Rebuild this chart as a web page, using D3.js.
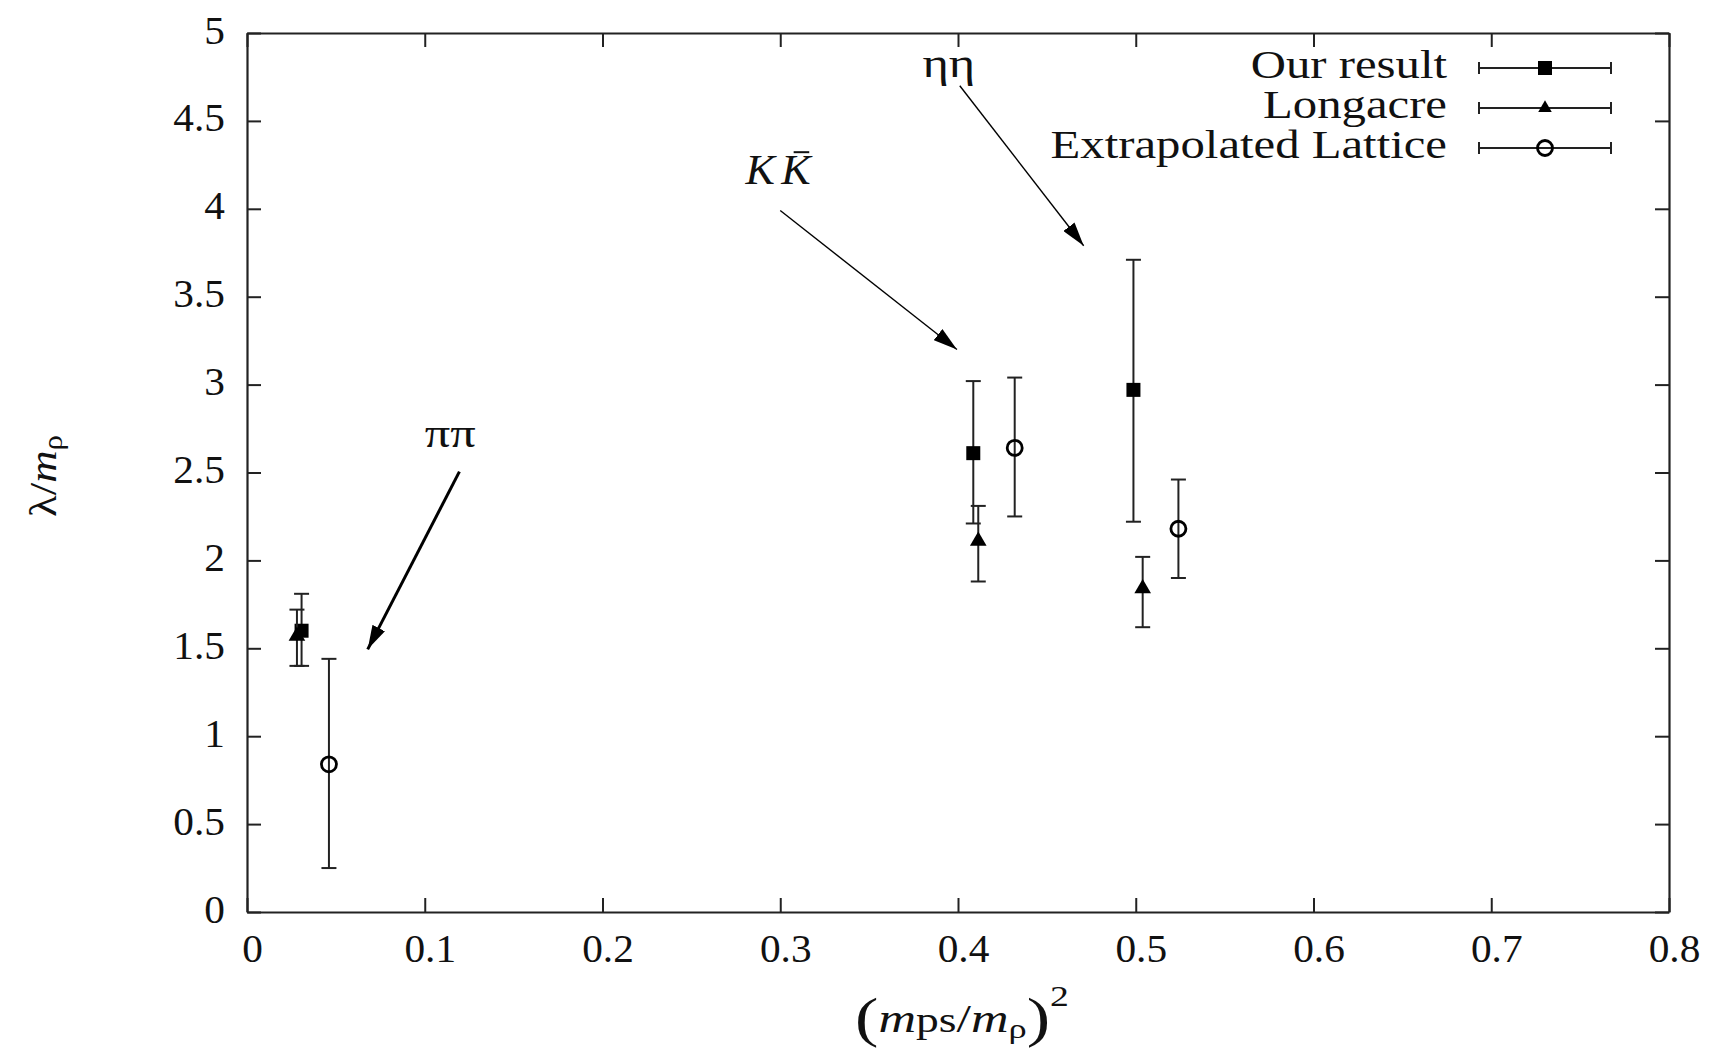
<!DOCTYPE html>
<html>
<head>
<meta charset="utf-8">
<script src="https://cdn.jsdelivr.net/npm/d3@7"></script>
<style>
  html, body { margin: 0; padding: 0; background: #fff; }
  svg { display: block; }
  text { font-family: "Liberation Serif", "Times New Roman", serif; fill: #111; }
</style>
</head>
<body>
<svg id="chart" width="1711" height="1050"></svg>
<script>
// ---- data -------------------------------------------------------------
const seriesNames = ["Our result", "Longacre", "Extrapolated Lattice"];

// (m_ps/m_rho)^2 and lambda/m_rho with error ranges
const ourX  = [0.0307, 0.4086, 0.4987];
const ourY  = [1.60, 2.61, 2.97];
const ourLo = [1.40, 2.21, 2.22];
const ourHi = [1.81, 3.02, 3.71];

const longX  = [0.0281, 0.4114, 0.5039];
const longY  = [1.57, 2.11, 1.84];
const longLo = [1.40, 1.88, 1.62];
const longHi = [1.72, 2.31, 2.02];

const latX  = [0.0461, 0.4319, 0.5240];
const latY  = [0.84, 2.64, 2.18];
const latLo = [0.25, 2.25, 1.90];
const latHi = [1.44, 3.04, 2.46];

const xTicks = [0, 0.1, 0.2, 0.3, 0.4, 0.5, 0.6, 0.7, 0.8];
const yTicks = [0, 0.5, 1, 1.5, 2, 2.5, 3, 3.5, 4, 4.5, 5];

// channel labels and arrows (data coordinates)
const labelText = ["ηη", "KK", "ππ"];
const labelX    = [0.380, 0.2805, 0.1000];
const labelY    = [4.75, 4.14, 2.645];
const arrowX0   = [0.401, 0.300, 0.1195];
const arrowY0   = [4.70, 3.99, 2.505];
const arrowX1   = [0.4707, 0.3994, 0.0679];
const arrowY1   = [3.79, 3.20, 1.494];

// ---- layout -----------------------------------------------------------
const svg = d3.select("#chart");
const FONT = 39;          // text size
const TICK_STRETCH = 1.06;
const LEGEND_STRETCH = 1.25;
const INK = "#222";

const x = d3.scaleLinear().domain([0, 0.8]).range([247, 1669]);
const y = d3.scaleLinear().domain([0, 5]).range([912, 33]);

const series = [
  { name: seriesNames[0], xs: ourX,  ys: ourY,  lo: ourLo,  hi: ourHi,  marker: "square" },
  { name: seriesNames[1], xs: longX, ys: longY, lo: longLo, hi: longHi, marker: "triangle" },
  { name: seriesNames[2], xs: latX,  ys: latY,  lo: latLo,  hi: latHi,  marker: "circle" }
];

// ---- axes (inward ticks, mirrored on top/right) ------------------------
function styleAxis(g) {
  g.selectAll("path.domain").attr("stroke", INK).attr("stroke-width", 2.2);
  g.selectAll(".tick line").attr("stroke", INK).attr("stroke-width", 2);
}

const gx = svg.append("g").attr("transform", `translate(0,${y(0)})`)
  .call(d3.axisBottom(x).tickValues(xTicks).tickSize(-14).tickSizeOuter(0)
        .tickFormat(d3.format("")));
styleAxis(gx);
gx.selectAll(".tick text")
  .attr("y", null).attr("dy", null)
  .attr("font-size", FONT).attr("font-family", null).attr("fill", "#111")
  .attr("text-anchor", "middle")
  .attr("transform", `translate(5,50) scale(${TICK_STRETCH},1)`);

const gy = svg.append("g").attr("transform", `translate(${x(0)},0)`)
  .call(d3.axisLeft(y).tickValues(yTicks).tickSize(-14).tickSizeOuter(0)
        .tickFormat(d3.format("")));
styleAxis(gy);
gy.selectAll(".tick text")
  .attr("x", null).attr("dy", null).attr("y", null)
  .attr("font-size", FONT).attr("font-family", null).attr("fill", "#111")
  .attr("text-anchor", "end")
  .attr("transform", `translate(-22,10) scale(${TICK_STRETCH},1)`);

const gt = svg.append("g").attr("transform", `translate(0,${y(5)})`)
  .call(d3.axisTop(x).tickValues(xTicks).tickSize(-14).tickSizeOuter(0).tickFormat(""));
styleAxis(gt);

const gr = svg.append("g").attr("transform", `translate(${x(0.8)},0)`)
  .call(d3.axisRight(y).tickValues(yTicks).tickSize(-14).tickSizeOuter(0).tickFormat(""));
styleAxis(gr);

// ---- axis titles ----------------------------------------------------------
const xt = svg.append("text")
  .attr("transform", `translate(962,1032) scale(1.3,1)`)
  .attr("text-anchor", "middle").attr("font-size", 40);
xt.append("tspan").attr("font-size", 54).attr("dy", 4).text("(");
xt.append("tspan").attr("font-style", "italic").attr("dy", -4).text("m");
xt.append("tspan").attr("font-size", 35).text("ps");
xt.append("tspan").text("/");
xt.append("tspan").attr("font-style", "italic").text("m");
xt.append("tspan").attr("font-size", 28).attr("dy", 6).text("ρ");
xt.append("tspan").attr("font-size", 54).attr("dy", -2).text(")");
xt.append("tspan").attr("font-size", 29).attr("dy", -30).text("2");

const yt = svg.append("text")
  .attr("transform", `translate(56,476) rotate(-90) scale(1.15,1)`)
  .attr("text-anchor", "middle").attr("font-size", FONT);
yt.append("tspan").text("λ/");
yt.append("tspan").attr("font-style", "italic").text("m");
yt.append("tspan").attr("font-size", 27).attr("dy", 6).text("ρ");

// ---- markers ------------------------------------------------------------
function drawMarker(g, kind, cx, cy, small) {
  if (kind === "square") {
    g.append("rect").attr("x", cx - 7).attr("y", cy - 7)
      .attr("width", 14).attr("height", 14).attr("fill", "#000");
  } else if (kind === "triangle") {
    g.append("path")
      .attr("d", d3.symbol(d3.symbolTriangle, small ? 80 : 120)())
      .attr("transform", `translate(${cx},${cy})`).attr("fill", "#000");
  } else {
    g.append("circle").attr("cx", cx).attr("cy", cy).attr("r", 7.5)
      .attr("fill", "none").attr("stroke", "#000").attr("stroke-width", 2.8);
  }
}

const CAP = 7.5;
const plot = svg.append("g");
series.forEach(s => {
  const g = plot.append("g");
  s.xs.forEach((xv, i) => {
    const px = x(xv);
    g.append("line").attr("x1", px).attr("x2", px)
      .attr("y1", y(s.lo[i])).attr("y2", y(s.hi[i]))
      .attr("stroke", INK).attr("stroke-width", 2);
    [s.lo[i], s.hi[i]].forEach(v => {
      g.append("line").attr("x1", px - CAP).attr("x2", px + CAP)
        .attr("y1", y(v)).attr("y2", y(v))
        .attr("stroke", INK).attr("stroke-width", 2);
    });
    drawMarker(g, s.marker, px, y(s.ys[i]), false);
  });
});

// ---- legend ---------------------------------------------------------------
const legendRows = [68, 108, 148];
series.forEach((s, i) => {
  const ry = legendRows[i];
  svg.append("text")
    .attr("transform", `translate(1447,${ry + 10}) scale(${LEGEND_STRETCH},1)`)
    .attr("text-anchor", "end").attr("font-size", FONT).text(s.name);
  const g = svg.append("g");
  g.append("line").attr("x1", 1479).attr("x2", 1611).attr("y1", ry).attr("y2", ry)
    .attr("stroke", INK).attr("stroke-width", 2);
  [1479, 1611].forEach(px => g.append("line")
    .attr("x1", px).attr("x2", px).attr("y1", ry - 6).attr("y2", ry + 6)
    .attr("stroke", INK).attr("stroke-width", 2));
  drawMarker(g, s.marker, 1545, ry, true);
});

// ---- annotations ---------------------------------------------------------
const defs = svg.append("defs");
defs.append("marker").attr("id", "head")
  .attr("viewBox", "0 0 24 14").attr("refX", 24).attr("refY", 7)
  .attr("markerUnits", "userSpaceOnUse")
  .attr("markerWidth", 24).attr("markerHeight", 14)
  .attr("orient", "auto")
  .append("path").attr("d", "M0,0 L24,7 L0,14 Z").attr("fill", "#000");

const arrowWidth = [1.4, 1.4, 3];
labelText.forEach((t, i) => {
  svg.append("line")
    .attr("x1", x(arrowX0[i])).attr("y1", y(arrowY0[i]))
    .attr("x2", x(arrowX1[i])).attr("y2", y(arrowY1[i]))
    .attr("stroke", "#000").attr("stroke-width", arrowWidth[i])
    .attr("marker-end", "url(#head)");
});

// ηη
svg.append("text")
  .attr("transform", `translate(${x(labelX[0])},${y(labelY[0])}) scale(1.2,1)`)
  .attr("font-size", 42).text(labelText[0]);

// K K-bar
const kk = svg.append("text")
  .attr("transform", `translate(${x(labelX[1])},${y(labelY[1])}) scale(1.05,1)`)
  .attr("font-size", 42).attr("font-style", "italic");
kk.append("tspan").text(labelText[1][0]);
kk.append("tspan").attr("dx", 6).text(labelText[1][1]);
{
  const e = kk.node().getExtentOfChar(1);
  const sx = 1.05;
  const ox = x(labelX[1]), oy = y(labelY[1]);
  svg.append("line")
    .attr("x1", ox + (e.x + e.width * 0.42) * sx)
    .attr("x2", ox + (e.x + e.width * 0.95) * sx)
    .attr("y1", oy - 32).attr("y2", oy - 32)
    .attr("stroke", "#111").attr("stroke-width", 2);
}

// ππ
svg.append("text")
  .attr("transform", `translate(${x(labelX[2])},${y(labelY[2])}) scale(1.2,1)`)
  .attr("font-size", 42).text(labelText[2]);
</script>
</body>
</html>
